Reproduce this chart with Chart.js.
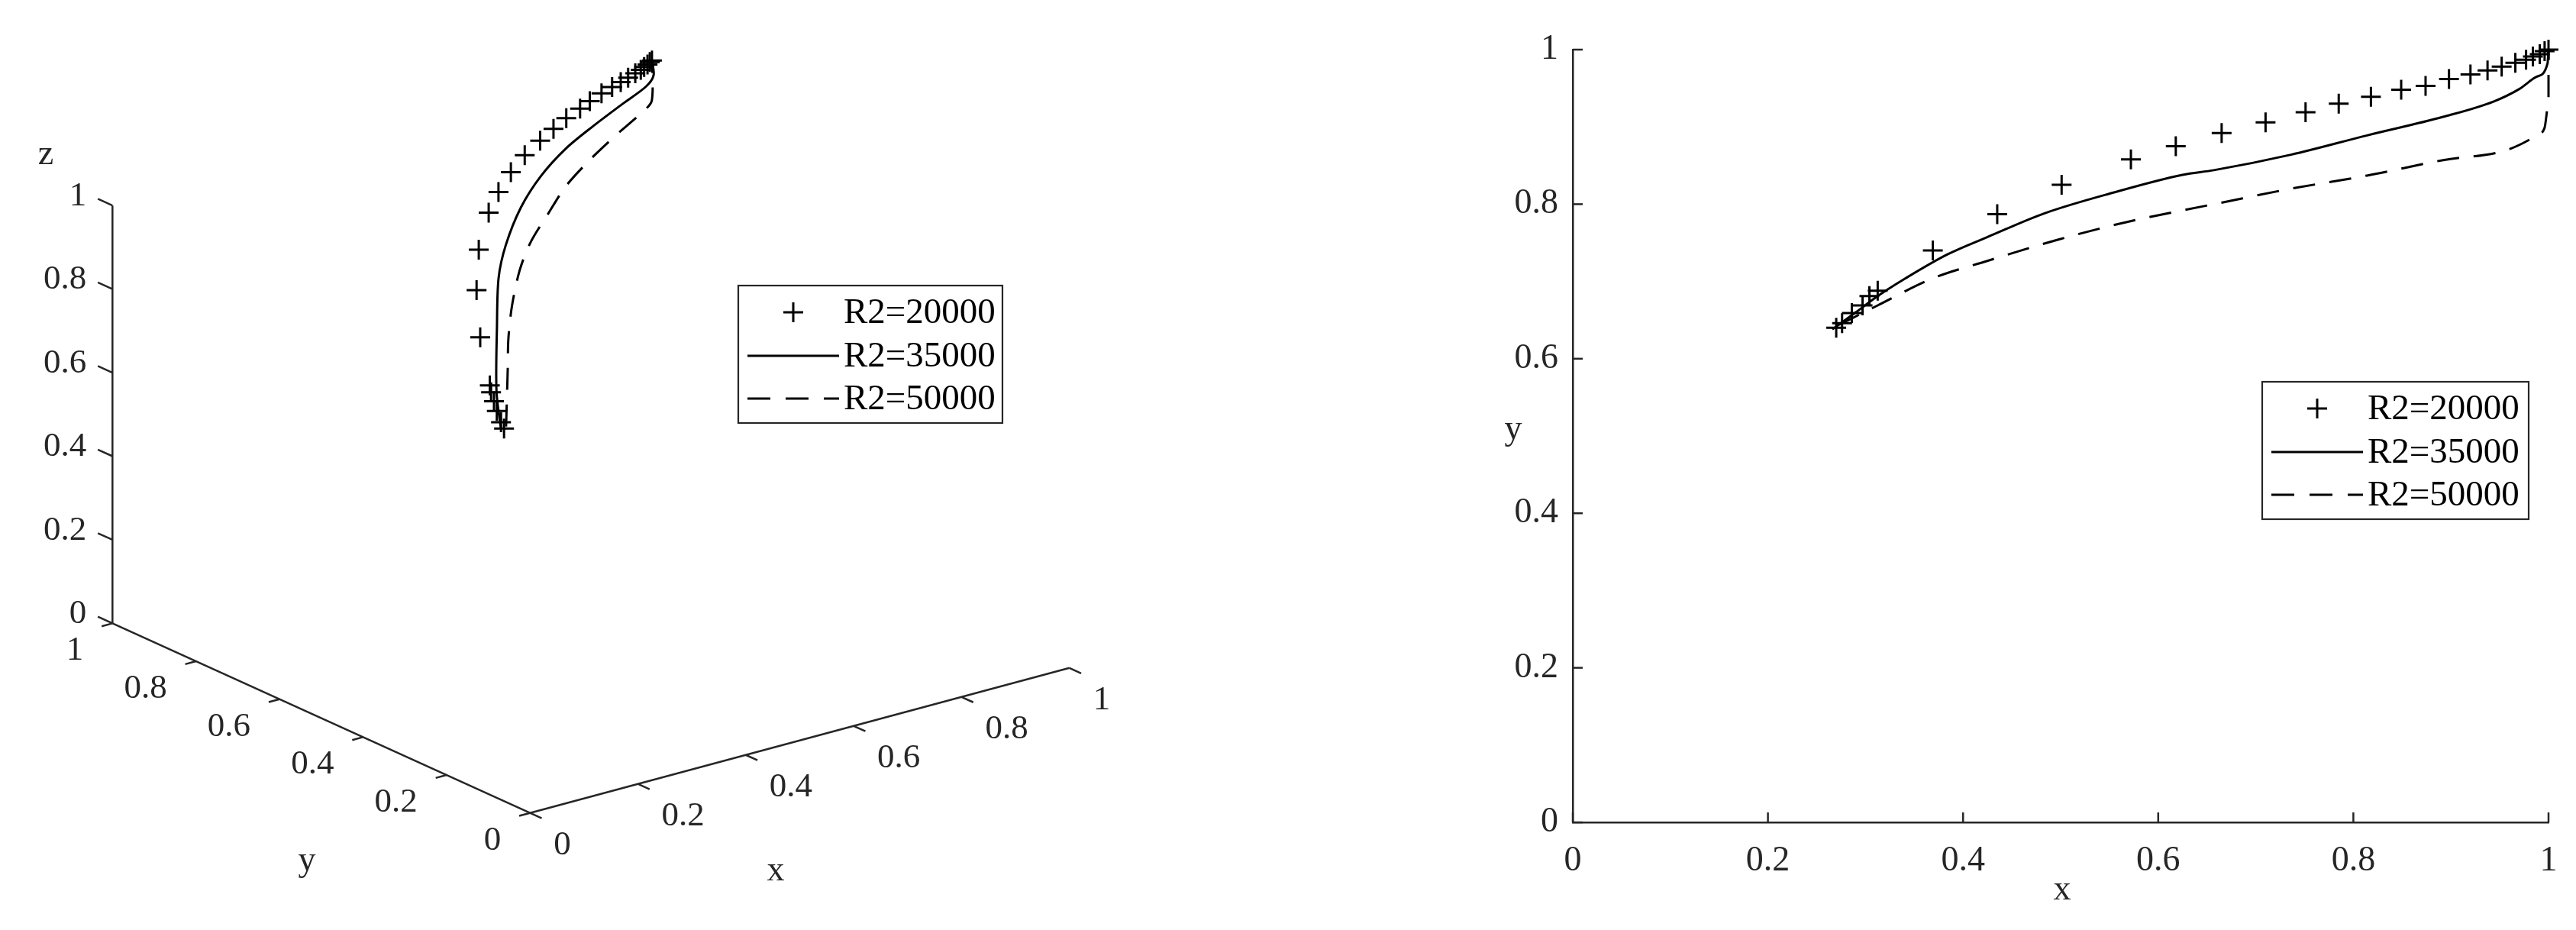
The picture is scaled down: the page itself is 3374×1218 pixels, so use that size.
<!DOCTYPE html>
<html><head><meta charset="utf-8">
<script src="https://cdn.jsdelivr.net/npm/chart.js@4/dist/chart.umd.min.js"></script>
<style>
html,body{margin:0;padding:0;background:#fff;width:3374px;height:1218px;overflow:hidden}
canvas{position:absolute;top:0}
#c3d{left:0;width:1600px;height:1218px}
#c2d{left:1900px;width:1474px;height:1218px}
</style></head>
<body>
<canvas id="c3d" width="1600" height="1218"></canvas>
<canvas id="c2d" width="1474" height="1218"></canvas>
<script>
// ---------------- DATA ----------------
const seriesLabels = ['R2=20000', 'R2=35000', 'R2=50000'];
const tickValues = [0, 0.2, 0.4, 0.6, 0.8, 1];
const tickLabels = ['0', '0.2', '0.4', '0.6', '0.8', '1'];
const axisNames = ['x', 'y', 'z'];

// R2=20000 (markers): x, y (2-D plot) ; the same x with 3-D y (depth) and 3-D z = 2-D y
const r20X = [0.270,0.276,0.286,0.297,0.304,0.3125,0.369,0.435,0.501,0.572,0.618,0.665,0.710,0.751,0.785,0.818,0.849,0.874,0.898,0.920,0.9375,0.952,0.966,0.977,0.984,0.991,0.996,1.0];
const r20Y = [0.640,0.646,0.659,0.669,0.681,0.688,0.740,0.787,0.825,0.858,0.875,0.892,0.906,0.919,0.930,0.939,0.948,0.953,0.962,0.968,0.973,0.978,0.983,0.987,0.991,0.994,0.998,1.0];
const r20Y3 = [0.411,0.426,0.449,0.470,0.486,0.500,0.596,0.690,0.770,0.838,0.874,0.905,0.930,0.946,0.958,0.970,0.977,0.986,0.989,0.992,0.994,0.995,0.996,0.997,0.998,0.999,1.0,1.0];

// R2=35000 (solid) 2-D
const r35X = [0.266,0.290,0.3125,0.341,0.384,0.426,0.483,0.554,0.625,0.657,0.736,0.814,0.892,0.944,0.970,0.988,0.999,1.0];
const r35Y = [0.638,0.660,0.681,0.704,0.735,0.758,0.788,0.815,0.838,0.844,0.864,0.889,0.913,0.933,0.949,0.965,0.982,1.0];
// R2=35000 3-D
const r35X3 = [0.266,0.3125,0.407,0.489,0.555,0.641,0.724,0.799,0.866,0.933,0.976,0.993,1.0];
const r35Y3 = [0.413,0.484,0.605,0.707,0.775,0.850,0.909,0.946,0.967,0.982,0.983,0.987,1.0];
const r35Z3 = [0.638,0.681,0.748,0.790,0.815,0.841,0.861,0.884,0.905,0.929,0.954,0.973,1.0];

// R2=50000 (dashed) 2-D
const r50X = [0.273,0.3125,0.369,0.426,0.497,0.568,0.625,0.657,0.736,0.814,0.892,0.957,0.988,0.996,1.0,1.0];
const r50Y = [0.644,0.669,0.704,0.727,0.754,0.777,0.792,0.800,0.820,0.837,0.857,0.870,0.889,0.899,0.930,1.0];
// R2=50000 3-D
const r50X3 = [0.273,0.362,0.415,0.479,0.552,0.617,0.693,0.765,0.843,0.915,0.983,0.999,1.0];
const r50Y3 = [0.410,0.521,0.588,0.662,0.738,0.796,0.851,0.902,0.944,0.976,0.998,0.999,1.0];
const r50Z3 = [0.644,0.700,0.723,0.747,0.772,0.790,0.809,0.826,0.844,0.862,0.886,0.905,1.0];

// ---------------- STYLE / LAYOUT ----------------
const AXIS = '#262626';
const FONT = '"Liberation Serif", "Times New Roman", serif';
const TICK_SIZE = 46;
const DASH = [29, 19];
// 3-D view (orthographic projection, canvas pixels)
const O3 = {x: 692, y: 1077};
const EX = {x: 721, y: -195};
const EY = {x: -558, y: -255};
const EZ = {x: 0, y: -562};
function proj(a, b, c) {
  return {x: O3.x + a*EX.x + b*EY.x + c*EZ.x, y: O3.y + a*EX.y + b*EY.y + c*EZ.y};
}
const zip2 = (xs, ys) => xs.map((v, i) => ({x: v, y: ys[i]}));
const zip3 = (xs, ys, zs) => xs.map((v, i) => proj(v, ys[i], zs[i]));

function markerStyle(label) {
  return {label, showLine: false, pointStyle: 'cross', pointRadius: 13, pointHoverRadius: 13,
    pointBorderWidth: 3, pointBorderColor: '#000', borderColor: '#000', backgroundColor: '#000', clip: false};
}
function lineStyle(label, dash, smooth) {
  return Object.assign({label, showLine: true, pointRadius: 0, pointHoverRadius: 0, borderColor: '#000', borderWidth: 3,
    borderDash: dash, fill: false, clip: false}, smooth);
}

function legendPlugin(x0, y0, x1, y1) {
  return {
    id: 'customLegend',
    afterDraw(chart) {
      const ctx = chart.ctx;
      ctx.save();
      ctx.fillStyle = '#fff';
      ctx.fillRect(x0, y0, x1 - x0, y1 - y0);
      ctx.strokeStyle = AXIS; ctx.lineWidth = 2.2;
      ctx.strokeRect(x0, y0, x1 - x0, y1 - y0);
      const rows = [35, 92, 148];
      chart.data.datasets.forEach((ds, i) => {
        const yy = y0 + rows[i];
        ctx.strokeStyle = '#000'; ctx.lineWidth = 3;
        if (ds.showLine) {
          ctx.setLineDash(ds.borderDash && ds.borderDash.length ? [30, 20] : []);
          ctx.beginPath(); ctx.moveTo(x0 + 12, yy); ctx.lineTo(x0 + 132, yy); ctx.stroke();
          ctx.setLineDash([]);
        } else {
          const cx = x0 + 72, r = 13;
          ctx.beginPath(); ctx.moveTo(cx - r, yy); ctx.lineTo(cx + r, yy);
          ctx.moveTo(cx, yy - r); ctx.lineTo(cx, yy + r); ctx.stroke();
        }
        ctx.fillStyle = '#000';
        ctx.font = '47px ' + FONT; ctx.textAlign = 'left'; ctx.textBaseline = 'middle';
        ctx.fillText(ds.label, x0 + 138, yy + 2);
      });
      ctx.restore();
    }
  };
}

function build() {
  // ---------------- 3-D CHART ----------------
  const axes3d = {
    id: 'axes3d',
    beforeDatasetsDraw(chart) {
      const ctx = chart.ctx, sx = chart.scales.x, sy = chart.scales.y;
      const P = (a, b, c) => { const p = proj(a, b, c); return [sx.getPixelForValue(p.x), sy.getPixelForValue(p.y)]; };
      const seg = (p, q) => { ctx.beginPath(); ctx.moveTo(p[0], p[1]); ctx.lineTo(q[0], q[1]); ctx.stroke(); };
      ctx.save();
      ctx.strokeStyle = AXIS; ctx.lineWidth = 2.5;
      seg(P(0,0,0), P(1,0,0));
      seg(P(0,0,0), P(0,1,0));
      seg(P(0,1,0), P(0,1,1));
      tickValues.forEach(t => {
        seg(P(t,0,0), P(t,-0.028,0));
        seg(P(0,t,0), P(-0.02,t,0));
        seg(P(0,1,t), P(0,1.035,t));
      });
      ctx.fillStyle = AXIS;
      ctx.font = '45px ' + FONT; ctx.textBaseline = 'middle';
      tickValues.forEach((t, i) => {
        let p = P(t,0,0);
        ctx.textAlign = 'left'; ctx.fillText(tickLabels[i], p[0] + 31, p[1] + 42);
        p = P(0,t,0);
        ctx.textAlign = 'right'; ctx.fillText(tickLabels[i], p[0] - 38, p[1] + 36);
        p = P(0,1,t);
        ctx.textAlign = 'right'; ctx.fillText(tickLabels[i], p[0] - 34, p[1] - 12);
      });
      ctx.font = '46px ' + FONT; ctx.textAlign = 'center';
      ctx.fillText(axisNames[0], 1016, 1141);
      ctx.fillText(axisNames[1], 402, 1128);
      ctx.fillText(axisNames[2], 60, 203);
      ctx.restore();
    }
  };

  const smooth3 = {tension: 0.3};
  new Chart(document.getElementById('c3d'), {
    type: 'scatter',
    data: {datasets: [
      Object.assign(markerStyle(seriesLabels[0]), {data: zip3(r20X, r20Y3, r20Y)}),
      Object.assign(lineStyle(seriesLabels[1], [], smooth3), {data: zip3(r35X3, r35Y3, r35Z3)}),
      Object.assign(lineStyle(seriesLabels[2], DASH, smooth3), {data: zip3(r50X3, r50Y3, r50Z3)})
    ]},
    options: {
      responsive: false, animation: false, devicePixelRatio: 1,
      layout: {padding: 0},
      plugins: {legend: {display: false}, tooltip: {enabled: false}},
      scales: {
        x: {type: 'linear', min: 0, max: 1600, display: false},
        y: {type: 'linear', min: 0, max: 1218, reverse: true, display: false}
      }
    },
    plugins: [axes3d, legendPlugin(967, 374, 1313, 554)]
  });

  // ---------------- 2-D CHART ----------------
  const inwardTicks = {
    id: 'inwardTicks',
    afterDatasetsDraw(chart) {
      const ctx = chart.ctx, sx = chart.scales.x, sy = chart.scales.y, a = chart.chartArea;
      ctx.save();
      ctx.strokeStyle = AXIS; ctx.lineWidth = 2.5;
      tickValues.forEach(t => {
        const px = sx.getPixelForValue(t);
        ctx.beginPath(); ctx.moveTo(px, a.bottom); ctx.lineTo(px, a.bottom - 13); ctx.stroke();
        const py = sy.getPixelForValue(t);
        ctx.beginPath(); ctx.moveTo(a.left, py); ctx.lineTo(a.left + 13, py); ctx.stroke();
      });
      ctx.fillStyle = AXIS; ctx.font = '46px ' + FONT;
      ctx.textAlign = 'center'; ctx.textBaseline = 'middle';
      ctx.fillText(axisNames[0], (a.left + a.right) / 2 + 2, 1166);
      ctx.fillText(axisNames[1], 82, 563);
      ctx.restore();
    }
  };

  const tickCfg = {
    font: {family: FONT, size: TICK_SIZE}, color: AXIS,
    stepSize: 0.2,
    callback: (v, i) => tickLabels[i]
  };

  const smooth2 = {cubicInterpolationMode: 'monotone'};
  new Chart(document.getElementById('c2d'), {
    type: 'scatter',
    data: {datasets: [
      Object.assign(markerStyle(seriesLabels[0]), {data: zip2(r20X, r20Y)}),
      Object.assign(lineStyle(seriesLabels[1], [], smooth2), {data: zip2(r35X, r35Y)}),
      Object.assign(lineStyle(seriesLabels[2], DASH, smooth2), {data: zip2(r50X, r50Y)})
    ]},
    options: {
      responsive: false, animation: false, devicePixelRatio: 1,
      layout: {padding: {left: 0, top: 65, right: 36, bottom: 0}},
      plugins: {legend: {display: false}, tooltip: {enabled: false}},
      scales: {
        x: {type: 'linear', min: 0, max: 1,
            ticks: Object.assign({}, tickCfg, {padding: 23, maxRotation: 0, autoSkip: false}),
            grid: {display: false, drawTicks: false},
            border: {display: true, color: AXIS, width: 2.5},
            afterFit: s => { s.height = 141; }},
        y: {type: 'linear', min: 0, max: 1,
            ticks: Object.assign({}, tickCfg, {padding: 19, autoSkip: false}),
            grid: {display: false, drawTicks: false},
            border: {display: true, color: AXIS, width: 2.5},
            afterFit: s => { s.width = 160; }}
      }
    },
    plugins: [inwardTicks, legendPlugin(1063, 500, 1412, 680)]
  });
}

if (document.fonts && document.fonts.load) {
  document.fonts.load('46px "Liberation Serif"').then(build, build);
} else { build(); }
</script>
</body></html>
